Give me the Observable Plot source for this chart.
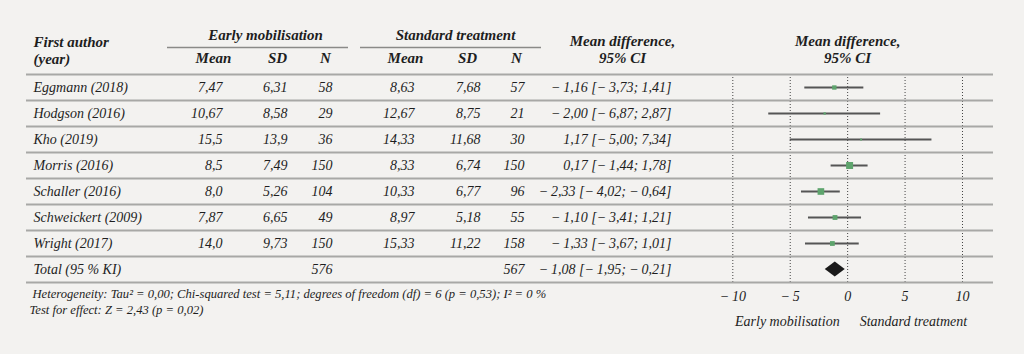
<!DOCTYPE html>
<html><head><meta charset="utf-8">
<script src="https://cdn.jsdelivr.net/npm/d3@7"></script>
<script src="https://cdn.jsdelivr.net/npm/@observablehq/plot@0.6"></script>
<style>
html,body{margin:0;padding:0;background:#f3f2f0;}
#chart{width:1024px;height:354px;overflow:hidden;}
</style></head><body><div id="chart"></div>
<script>
// ---- data ----
const authors = ["Eggmann (2018)", "Hodgson (2016)", "Kho (2019)", "Morris (2016)", "Schaller (2016)", "Schweickert (2009)", "Wright (2017)"];
const earlyMean = ["7,47", "10,67", "15,5", "8,5", "8,0", "7,87", "14,0"];
const earlySD = ["6,31", "8,58", "13,9", "7,49", "5,26", "6,65", "9,73"];
const earlyN = [58, 29, 36, 150, 104, 49, 150];
const stdMean = ["8,63", "12,67", "14,33", "8,33", "10,33", "8,97", "15,33"];
const stdSD = ["7,68", "8,75", "11,68", "6,74", "6,77", "5,18", "11,22"];
const stdN = [57, 21, 30, 150, 96, 55, 158];
const md = [-1.16, -2.00, 1.17, 0.17, -2.33, -1.10, -1.33];
const mdLow = [-3.73, -6.87, -5.00, -1.44, -4.02, -3.41, -3.67];
const mdHigh = [1.41, 2.87, 7.34, 1.78, -0.64, 1.21, 1.01];
const weight = [11.4, 3.2, 2.0, 29.1, 26.4, 14.1, 13.8]; // estimated from square sizes
const totalLabel = "Total (95 % KI)";
const totalEarlyN = 576;
const totalStdN = 567;
const totalMD = -1.08, totalLow = -1.95, totalHigh = -0.21;
const xTicks = [-10, -5, 0, 5, 10];
const groupLabels = ["Early mobilisation", "Standard treatment"];
const footnotes = [
  "Heterogeneity: Tau\u00B2 = 0,00; Chi-squared test = 5,11; degrees of freedom (df) = 6 (p = 0,53); I\u00B2 = 0 %",
  "Test for effect: Z = 2,43 (p = 0,02)"
];

// ---- helpers ----
const fmt = v => (v < 0 ? "\u2212\u2009" : "") + Math.abs(v).toFixed(2).replace(".", ",");
const ci = (m, lo, hi) => `${fmt(m)} [${fmt(lo)}; ${fmt(hi)}]`;
const tickFmt = d => d < 0 ? "\u2212\u2009" + Math.abs(d) : String(d);

const rows = authors.map((a, i) => ({
  y: i + 0.5, author: a, m1: earlyMean[i], s1: earlySD[i], n1: earlyN[i],
  m2: stdMean[i], s2: stdSD[i], n2: stdN[i],
  md: md[i], lo: mdLow[i], hi: mdHigh[i], w: weight[i], ci: ci(md[i], mdLow[i], mdHigh[i])
}));
const totalRow = {y: authors.length + 0.5, author: totalLabel, n1: totalEarlyN, n2: totalStdN,
  ci: ci(totalMD, totalLow, totalHigh)};
const tableRows = [...rows, totalRow];
const diamond = [
  {x: totalLow, h: 0}, {x: totalMD, h: 0.29}, {x: totalHigh, h: 0}
];

// ---- layout ----
const W = 1024, H = 354, mL = 26, mR = 31, mT = 74, mB = 72;
const col = {author: 33, m1: 222, s1: 287, n1: 332, m2: 414, s2: 480, n2: 524, ci: 671};
const hcol = {m1: 213, s1: 277, n1: 325, m2: 405, s2: 467, n2: 516, ci: 622};
const ink = "#1e1e1e";

const colText = (key, anchor, data = tableRows) => Plot.text(data, {
  y: "y", text: key, frameAnchor: "left", dx: col[key] - mL, textAnchor: anchor,
  fontSize: 14, fill: ink
});
const head = (txt, x, y, opts = {}) => Plot.text([txt], {
  text: d => d, frameAnchor: "top-left", dx: x - mL, dy: y - mT,
  textAnchor: "middle", lineAnchor: "middle", fontWeight: "bold", fontSize: 15, fill: ink, ...opts
});
const forestHead = (txt, y) => Plot.text([txt], {
  x: 0, text: d => d, frameAnchor: "top", dy: y - mT,
  lineAnchor: "middle", fontWeight: "bold", fontSize: 15, fill: ink
});

const chart = Plot.plot({
  width: W, height: H,
  marginLeft: mL, marginRight: mR, marginTop: mT, marginBottom: mB,
  style: {background: "#f3f2f0", fontFamily: "'Liberation Serif', serif", fontStyle: "italic", fontSize: "14px", color: ink},
  x: {domain: [-71.5, 12.7], ticks: xTicks, tickSize: 0, tickPadding: 9, tickFormat: tickFmt, label: null},
  y: {domain: [0, 8], reverse: true, axis: null},
  r: {type: "sqrt", domain: [0, 30], range: [0, 4]},
  marks: [
    // dotted vertical grid
    Plot.ruleX(xTicks, {stroke: "#444", strokeWidth: 1, strokeDasharray: "1,2"}),
    // row separators
    Plot.ruleY(d3.range(0, 9), {stroke: "#a8a8a6", strokeWidth: 2}),
    // group underlines
    Plot.ruleY([0], {dy: 47 - mT, insetLeft: 167 - mL, insetRight: W - mR - 348, stroke: "#8a8a88", strokeWidth: 1.5}),
    Plot.ruleY([0], {dy: 47 - mT, insetLeft: 360 - mL, insetRight: W - mR - 541, stroke: "#8a8a88", strokeWidth: 1.5}),
    // headers
    head("First author", 33, 42, {textAnchor: "start"}),
    head("(year)", 33, 59, {textAnchor: "start"}),
    head(groupLabels[0], 265, 35),
    head(groupLabels[1], 455, 35),
    head("Mean", hcol.m1, 58), head("SD", hcol.s1, 58), head("N", hcol.n1, 58),
    head("Mean", hcol.m2, 58), head("SD", hcol.s2, 58), head("N", hcol.n2, 58),
    head("Mean difference,", hcol.ci, 41), head("95% CI", hcol.ci, 58),
    forestHead("Mean difference,", 41),
    forestHead("95% CI", 58),
    // table columns
    colText("author", "start"),
    colText("m1", "end", rows), colText("s1", "end", rows), colText("n1", "end"),
    colText("m2", "end", rows), colText("s2", "end", rows), colText("n2", "end"),
    colText("ci", "end"),
    // forest: confidence intervals and squares
    Plot.ruleY(rows, {y: "y", x1: "lo", x2: "hi", stroke: "#555", strokeWidth: 1.8}),
    Plot.dot(rows, {x: "md", y: "y", r: "w", symbol: "square", fill: "#5ea46d", stroke: "none"}),
    // pooled diamond
    Plot.areaY(diamond, {x: "x", y1: d => totalRow.y - d.h, y2: d => totalRow.y + d.h, fill: "#1a1a1a"}),
    // direction labels
    Plot.text([groupLabels[0]], {x: 0, text: d => d, frameAnchor: "bottom", dy: 43, dx: -8, textAnchor: "end", fontSize: 14, fill: ink}),
    Plot.text([groupLabels[1]], {x: 0, text: d => d, frameAnchor: "bottom", dy: 43, dx: 12, textAnchor: "start", fontSize: 14, fill: ink}),
    // footnotes
    Plot.text([footnotes[0]], {text: d => d, frameAnchor: "bottom-left", dx: 32 - mL, dy: 297 - (H - mB), textAnchor: "start", fontSize: 12.6, fill: ink}),
    Plot.text([footnotes[1]], {text: d => d, frameAnchor: "bottom-left", dx: 29 - mL, dy: 313 - (H - mB), textAnchor: "start", fontSize: 12.6, fill: ink})
  ]
});
document.getElementById("chart").appendChild(chart);
</script>
</body></html>
